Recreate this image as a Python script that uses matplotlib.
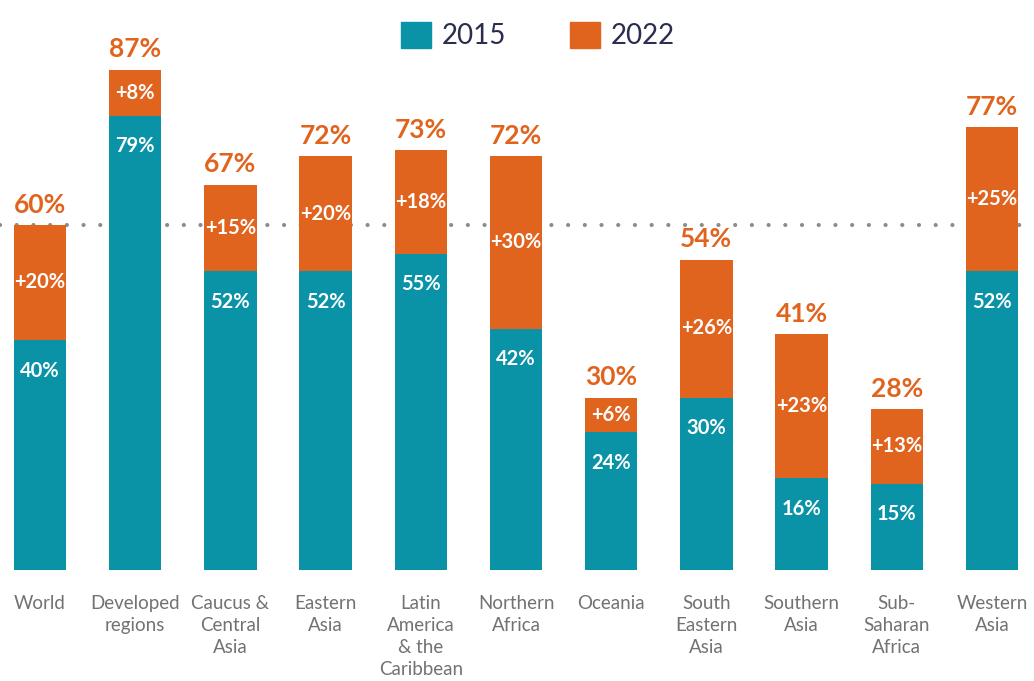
import matplotlib.pyplot as plt
from matplotlib.patches import Patch

regions = ['World', 'Developed\nregions', 'Caucus &\nCentral\nAsia', 'Eastern\nAsia',
           'Latin\nAmerica\n& the\nCaribbean', 'Northern\nAfrica', 'Oceania',
           'South\nEastern\nAsia', 'Southern\nAsia', 'Sub-\nSaharan\nAfrica', 'Western\nAsia']
share_2015 = [40, 79, 52, 52, 55, 42, 24, 30, 16, 15, 52]
share_2022 = [60, 87, 67, 72, 73, 72, 30, 54, 41, 28, 77]
# increase labels as printed on the chart
gain_labels = ['+20%', '+8%', '+15%', '+20%', '+18%', '+30%', '+6%', '+26%', '+23%', '+13%', '+25%']
world_avg = 60

TEAL = '#0a93a6'
ORANGE = '#e0641e'

plt.rcParams['font.family'] = ['Lato', 'DejaVu Sans']

fig = plt.figure(figsize=(10.34, 6.81), dpi=100)
ax = fig.add_axes([0, 111/681, 1, 570/681])

x = list(range(len(regions)))
gain = [b - a for a, b in zip(share_2015, share_2022)]

ax.axhline(world_avg, color='#8c8c8c', lw=3, linestyle=(0, (0.01, 4)),
           dash_capstyle='round', zorder=0)

ax.bar(x, share_2015, width=0.55, color=TEAL, zorder=2)
ax.bar(x, gain, bottom=share_2015, width=0.55, color=ORANGE, zorder=2)

for i in x:
    ax.annotate(f'{share_2022[i]}%', (i, share_2022[i]), xytext=(0, 6),
                textcoords='offset points', ha='center', va='bottom',
                color=ORANGE, fontsize=19, fontweight='bold')
    ax.text(i, share_2015[i] + gain[i] / 2, gain_labels[i], ha='center', va='center',
            color='white', fontsize=14.5, fontweight='bold')
    ax.annotate(f'{share_2015[i]}%', (i, share_2015[i]), xytext=(0, -22),
                textcoords='offset points', ha='center', va='center',
                color='white', fontsize=14.5, fontweight='bold')

ax.set_xlim(-40/95.2, (1034-40)/95.2)
ax.set_ylim(0, 570/5.75)
ax.set_xticks(x)
ax.set_xticklabels(regions, fontsize=13.5, color='#727272', linespacing=1.35)
ax.tick_params(axis='x', length=0, pad=18)
ax.set_yticks([])
for s in ax.spines.values():
    s.set_visible(False)

handles = [Patch(color=TEAL, label='2015'), Patch(color=ORANGE, label='2022')]
fig.legend(handles=handles, loc='upper center', bbox_to_anchor=(0.52, 1.005), ncol=2,
           frameon=False, fontsize=20, handlelength=1.1, handleheight=1.1,
           columnspacing=2.3, handletextpad=0.36, labelcolor='#2b2d4f')

fig.savefig('out.png', dpi=100)
